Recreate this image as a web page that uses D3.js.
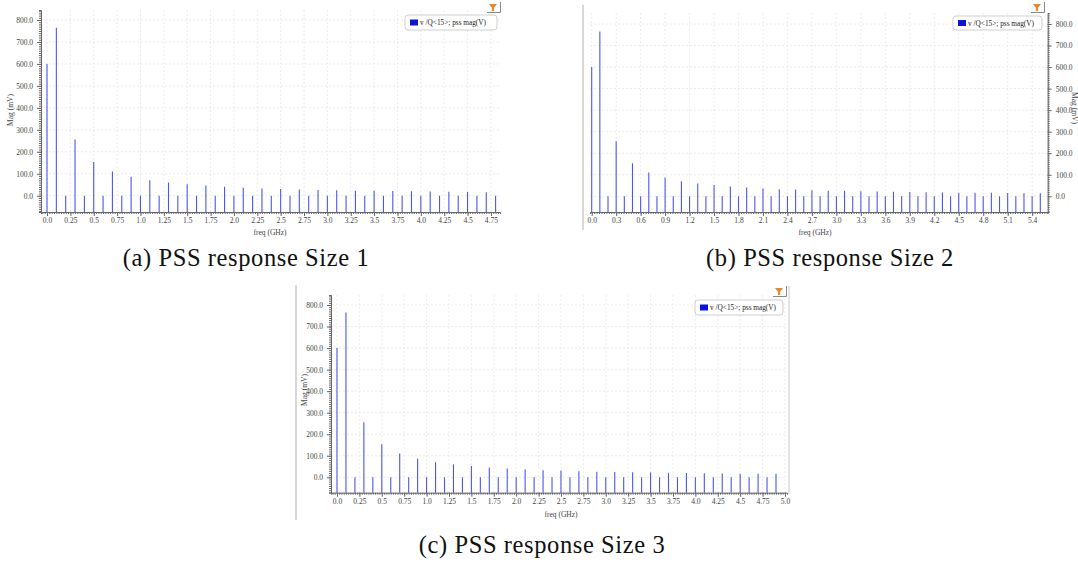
<!DOCTYPE html>
<html lang="en">
<head>
    <meta charset="UTF-8">
    <title>PSS response</title>
    <script src="https://d3js.org/d3.v7.min.js"></script>
    <style>
        body { margin: 0; background: #fff; }
        svg { display: block; }
    </style>
</head>
<body>
    <svg id="fig" width="1078" height="570"></svg>
    <script>
        // harmonic frequencies (GHz) and their magnitudes (mV)
        const harmonicGHz = [0.0, 0.1, 0.2, 0.3, 0.4, 0.5, 0.6, 0.7, 0.8, 0.9,
            1.0, 1.1, 1.2, 1.3, 1.4, 1.5, 1.6, 1.7, 1.8, 1.9,
            2.0, 2.1, 2.2, 2.3, 2.4, 2.5, 2.6, 2.7, 2.8, 2.9,
            3.0, 3.1, 3.2, 3.3, 3.4, 3.5, 3.6, 3.7, 3.8, 3.9,
            4.0, 4.1, 4.2, 4.3, 4.4, 4.5, 4.6, 4.7, 4.8, 4.9,
            5.0, 5.1, 5.2, 5.3, 5.4, 5.5];
        const magnitudeMV = [600, 765, 0, 256, 0, 153, 0, 110, 0, 86,
            0, 70, 0, 60, 0, 52, 0, 46, 0, 41,
            0, 36, 0, 33, 0, 31, 0, 28, 0, 26,
            0, 25, 0, 23, 0, 22, 0, 21, 0, 20,
            0, 19, 0, 18, 0, 17, 0, 16, 0, 16,
            0, 15, 0, 14, 0, 14];

        const freqTicksA = [0.0, 0.25, 0.5, 0.75, 1.0, 1.25, 1.5, 1.75, 2.0, 2.25, 2.5, 2.75,
            3.0, 3.25, 3.5, 3.75, 4.0, 4.25, 4.5, 4.75];
        const freqTicksB = [0.0, 0.3, 0.6, 0.9, 1.2, 1.5, 1.8, 2.1, 2.4, 2.7, 3.0, 3.3,
            3.6, 3.9, 4.2, 4.5, 4.8, 5.1, 5.4];
        const freqTicksC = [0.0, 0.25, 0.5, 0.75, 1.0, 1.25, 1.5, 1.75, 2.0, 2.25, 2.5, 2.75,
            3.0, 3.25, 3.5, 3.75, 4.0, 4.25, 4.5, 4.75, 5.0];
        const magTicks = [0, 100, 200, 300, 400, 500, 600, 700, 800];

        const legendLabel = "v /Q<15>; pss mag(V)";
        const captions = ["(a) PSS response Size 1", "(b) PSS response Size 2", "(c) PSS response Size 3"];

        // layout of the three panels (pixels)
        const panels = [
            { maxGHz: 4.8, ticks: freqTicksA, minor: 0.025, f0: 47, fMaxX: 495.6, left: 41, right: 500,
              y0: 195.7, y800: 20, top: 10, bottom: 212, side: "left",
              legend: [405, 15, 92, 15], icon: [487, 2], xTitle: [270, 235], yTitle: [10, 110],
              caption: [246, 266], border: null },
            { maxGHz: 5.5, ticks: freqTicksB, minor: 0.03, f0: 591.7, fMaxX: 1040.3, left: 590, right: 1047.7,
              y0: 196.3, y800: 24, top: 13, bottom: 212, side: "right",
              legend: [953, 16, 89, 14], icon: [1031, 2], xTitle: [815, 235], yTitle: [1075, 108],
              caption: [830, 266], border: [583, 5, 230] },
            { maxGHz: 4.9, ticks: freqTicksC, minor: 0.025, f0: 337, fMaxX: 776.0, left: 331, right: 787,
              y0: 477.3, y800: 305, top: 295, bottom: 492.7, side: "left",
              legend: [695, 300, 88, 15], icon: [773, 286], xTitle: [561, 517], yTitle: [304, 390],
              caption: [542, 553], border: [296, 285, 520], rightBorder: [789, 286, 494] }
        ];

        const svg = d3.select("#fig");
        const fmtFreq = v => (Math.abs(v % 1) < 1e-9 ? v.toFixed(1) : String(v));
        const tickInk = "#444";

        panels.forEach((p, i) => {
            const g = svg.append("g");

            // x scale: pin 0 and the last harmonic, then stretch to the plot edges
            const x = d3.scaleLinear().domain([0, p.maxGHz]).range([p.f0, p.fMaxX]);
            x.domain([x.invert(p.left), x.invert(p.right)]).range([p.left, p.right]);
            const y = d3.scaleLinear().domain([0, 800]).range([p.y0, p.y800]);
            y.domain([y.invert(p.bottom), y.invert(p.top)]).range([p.bottom, p.top]);

            if (p.border) {
                g.append("line").attr("x1", p.border[0]).attr("x2", p.border[0])
                    .attr("y1", p.border[1]).attr("y2", p.border[2])
                    .attr("stroke", "#b0b0b0").attr("stroke-width", 1);
            }
            if (p.rightBorder) {
                g.append("line").attr("x1", p.rightBorder[0]).attr("x2", p.rightBorder[0])
                    .attr("y1", p.rightBorder[1]).attr("y2", p.rightBorder[2])
                    .attr("stroke", "#c8c8c8").attr("stroke-width", 1);
            }

            // grid
            g.append("g").selectAll("line").data(p.ticks).join("line")
                .attr("x1", d => x(d)).attr("x2", d => x(d))
                .attr("y1", p.top).attr("y2", p.bottom)
                .attr("stroke", "#ececec").attr("stroke-dasharray", "2,2");
            g.append("g").selectAll("line").data(magTicks).join("line")
                .attr("x1", p.left).attr("x2", p.right)
                .attr("y1", d => y(d)).attr("y2", d => y(d))
                .attr("stroke", "#ececec").attr("stroke-dasharray", "2,2");

            // stems
            const data = harmonicGHz.map((f, k) => ({ f, v: magnitudeMV[k] }))
                .filter(d => d.f <= p.maxGHz + 1e-9);
            g.append("g").selectAll("line").data(data).join("line")
                .attr("x1", d => x(d.f)).attr("x2", d => x(d.f))
                .attr("y1", p.bottom).attr("y2", d => y(d.v))
                .attr("stroke", "#4a56ee").attr("stroke-width", 1.1);

            // x axis: minor ruler + major ticks
            const xd = x.domain();
            const minorX = d3.range(Math.ceil(xd[0] / p.minor), Math.floor(xd[1] / p.minor) + 1)
                .map(k => k * p.minor);
            g.append("g").attr("transform", `translate(0,${p.bottom})`)
                .call(d3.axisBottom(x).tickValues(minorX).tickSize(2).tickFormat(""))
                .call(a => a.selectAll("line,path").attr("stroke", "#666"));
            g.append("g").attr("transform", `translate(0,${p.bottom})`)
                .call(d3.axisBottom(x).tickValues(p.ticks).tickSize(4).tickSizeOuter(0).tickPadding(2).tickFormat(fmtFreq))
                .call(a => a.select("path").remove())
                .call(a => a.selectAll("line").attr("stroke", "#666"))
                .call(a => a.selectAll("text").attr("font-size", 7.5).attr("fill", tickInk)
                    .attr("font-family", "Liberation Serif, serif"));

            // y axis
            const yd = y.domain();
            const minorY = d3.range(Math.ceil(yd[0] / 10), Math.floor(yd[1] / 10) + 1).map(k => k * 10);
            const axisFn = p.side === "left" ? d3.axisLeft : d3.axisRight;
            const yPos = p.side === "left" ? p.left : p.right;
            g.append("g").attr("transform", `translate(${yPos},0)`)
                .call(axisFn(y).tickValues(minorY).tickSize(2).tickFormat(""))
                .call(a => a.selectAll("line,path").attr("stroke", "#666"));
            g.append("g").attr("transform", `translate(${yPos},0)`)
                .call(axisFn(y).tickValues(magTicks).tickSize(4).tickSizeOuter(0).tickPadding(4).tickFormat(d => d.toFixed(1)))
                .call(a => a.select("path").remove())
                .call(a => a.selectAll("line").attr("stroke", "#666"))
                .call(a => a.selectAll("text").attr("font-size", 7.5).attr("fill", tickInk)
                    .attr("font-family", "Liberation Serif, serif"));

            // axis titles
            g.append("text").attr("x", p.xTitle[0]).attr("y", p.xTitle[1])
                .attr("text-anchor", "middle").attr("font-family", "Liberation Serif, serif")
                .attr("font-size", 7.5).attr("fill", tickInk).text("freq (GHz)");
            g.append("text")
                .attr("transform", `translate(${p.yTitle[0]},${p.yTitle[1]}) rotate(${p.side === "left" ? -90 : 90})`)
                .attr("text-anchor", "middle").attr("dy", "0.35em")
                .attr("font-family", "Liberation Serif, serif")
                .attr("font-size", 7.5).attr("fill", tickInk).text("Mag (mV)");

            // legend
            const [lx, ly, lw, lh] = p.legend;
            g.append("rect").attr("x", lx).attr("y", ly).attr("width", lw).attr("height", lh)
                .attr("rx", 3).attr("fill", "#fff").attr("stroke", "#cfcfcf");
            g.append("rect").attr("x", lx + 5).attr("y", ly + lh / 2 - 3).attr("width", 8).attr("height", 6)
                .attr("fill", "#0a14dc");
            g.append("text").attr("x", lx + 15).attr("y", ly + lh / 2).attr("dy", "0.35em")
                .attr("font-family", "Liberation Serif, serif").attr("font-size", 7.3)
                .attr("fill", "#222").text(legendLabel);

            // small filter icon at the top right corner
            const [ix, iy] = p.icon;
            g.append("path")
                .attr("d", `M${ix + 2},${iy + 2} L${ix + 10},${iy + 2} L${ix + 7},${iy + 6} L${ix + 7},${iy + 9} L${ix + 5},${iy + 9} L${ix + 5},${iy + 6} Z`)
                .attr("fill", "#e8892a");
            g.append("path")
                .attr("d", `M${ix},${iy + 10.5} L${ix + 13.5},${iy + 10.5} L${ix + 13.5},${iy}`)
                .attr("fill", "none").attr("stroke", "#888").attr("stroke-width", 1);

            // caption
            svg.append("text").attr("x", p.caption[0]).attr("y", p.caption[1])
                .attr("text-anchor", "middle").attr("font-family", "Liberation Serif, serif")
                .attr("font-size", 24.5).attr("letter-spacing", 0.6)
                .attr("fill", "#111").text(captions[i]);
        });
    </script>
</body>
</html>
